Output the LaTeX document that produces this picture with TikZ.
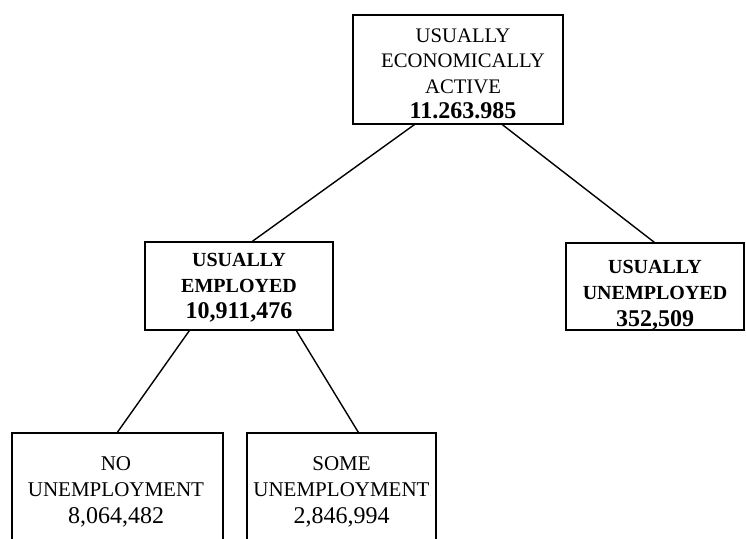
\documentclass[tikz,border=0pt]{standalone}
\usepackage{fontspec}
\setmainfont{Liberation Serif}
\begin{document}
\begin{tikzpicture}[x=1pt,y=-1pt,
  box/.style={draw,line width=1.3pt,rectangle,inner sep=0pt},
  txt/.style={anchor=north,inner sep=0pt,align=center,font=\fontsize{20}{26}\selectfont},
  link/.style={line width=1.4pt}]
\clip (0,0) rectangle (746,538);
\fill[white] (0,0) rectangle (746,538);
% boxes
\node[box,minimum width=210pt,minimum height=109pt] (top) at (458,69.5) {};
\node[box,minimum width=188pt,minimum height=88pt] (mid) at (239,286) {};
\node[box,minimum width=178pt,minimum height=87pt] (right) at (655,286.5) {};
\node[box,minimum width=211pt,minimum height=127pt] (b1) at (117.5,496.5) {};
\node[box,minimum width=189pt,minimum height=127pt] (b2) at (341.5,496.5) {};
% texts
\node[txt,font=\fontsize{20.7}{25.5}\selectfont] (ttop) at (463,28.3)
  {USUALLY\\ECONOMICALLY\\ACTIVE\\{\fontsize{24}{25.5}\selectfont\bfseries 11.263.985}};
\node[txt,font=\fontsize{20}{26}\selectfont\bfseries] (tmid) at (239,252.8)
  {USUALLY\\EMPLOYED\\{\fontsize{24}{26}\selectfont 10,911,476}};
\node[txt,font=\fontsize{20}{26.5}\selectfont\bfseries] (tright) at (655,259.7)
  {USUALLY\\UNEMPLOYED\\{\fontsize{24}{26.5}\selectfont 352,509}};
\node[txt,font=\fontsize{21}{26.5}\selectfont] (tb1) at (116,456.3)
  {NO\\UNEMPLOYMENT\\{\fontsize{24}{26.5}\selectfont 8,064,482}};
\node[txt,font=\fontsize{21}{26.5}\selectfont] (tb2) at (341.5,456.3)
  {SOME\\UNEMPLOYMENT\\{\fontsize{24}{26.5}\selectfont 2,846,994}};
% connectors
\draw[link] ([xshift=62pt]top.south west) -- ([xshift=108pt]mid.north west);
\draw[link] ([xshift=150pt]top.south west) -- ([xshift=89pt]right.north west);
\draw[link] ([xshift=45pt]mid.south west) -- ([xshift=106pt]b1.north west);
\draw[link] ([xshift=152pt]mid.south west) -- ([xshift=112pt]b2.north west);
\end{tikzpicture}
\end{document}
